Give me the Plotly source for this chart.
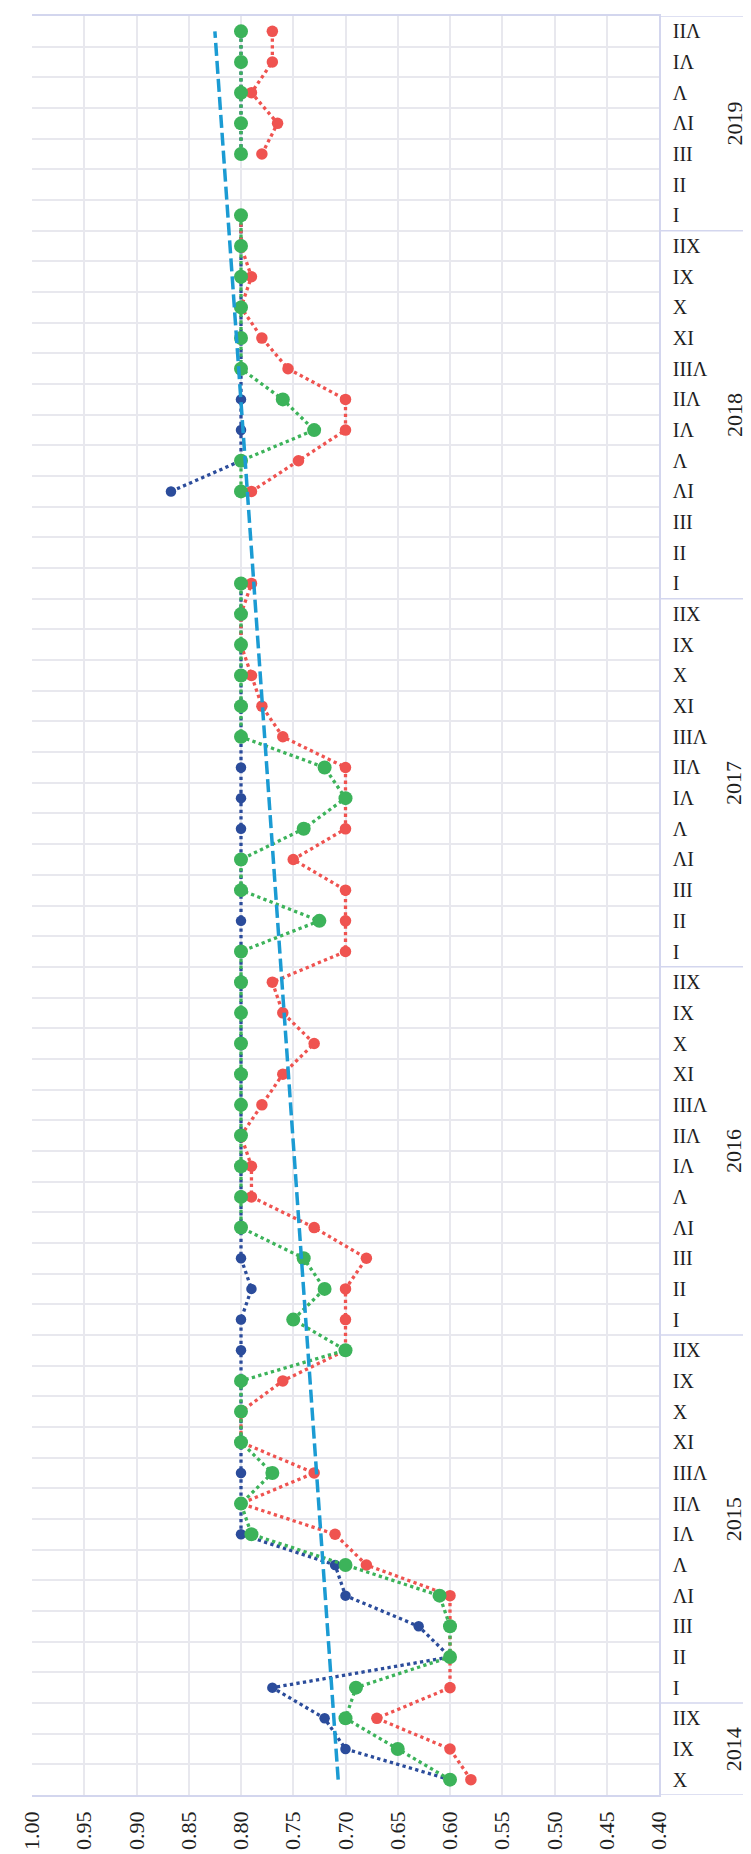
import plotly.graph_objects as go

# ---------------- data ----------------
years = ["2014", "2015", "2016", "2017", "2018", "2019"]
month_labels = ["I", "II", "III", "ΛI", "Λ", "IΛ", "IIΛ", "IIIΛ", "XI", "X", "IX", "IIX"]
year_months = {
    "2014": [10, 11, 12],
    "2015": list(range(1, 13)),
    "2016": list(range(1, 13)),
    "2017": list(range(1, 13)),
    "2018": list(range(1, 13)),
    "2019": list(range(1, 8)),
}

blue_vals = [
    0.60, 0.70, 0.72,                                                   # 2014
    0.77, 0.60, 0.63, 0.70, 0.71, 0.80, 0.80, 0.80, 0.80, 0.80, 0.80, 0.80,  # 2015
    0.80, 0.79, 0.80, 0.80, 0.80, 0.80, 0.80, 0.80, 0.80, 0.80, 0.80, 0.80,  # 2016
    0.80, 0.80, 0.80, 0.80, 0.80, 0.80, 0.80, 0.80, 0.80, 0.80, 0.80, 0.80,  # 2017
    0.80, None, None, 0.867, 0.80, 0.80, 0.80, 0.80, 0.80, 0.80, 0.80, 0.80,  # 2018
    0.80, None, 0.80, 0.80, 0.80, 0.80, 0.80,                           # 2019
]
red_vals = [
    0.58, 0.60, 0.67,
    0.60, 0.60, 0.60, 0.60, 0.68, 0.71, 0.80, 0.73, 0.80, 0.80, 0.76, 0.70,
    0.70, 0.70, 0.68, 0.73, 0.79, 0.79, 0.80, 0.78, 0.76, 0.73, 0.76, 0.77,
    0.70, 0.70, 0.70, 0.75, 0.70, 0.70, 0.70, 0.76, 0.78, 0.79, 0.80, 0.80,
    0.79, None, None, 0.79, 0.745, 0.70, 0.70, 0.755, 0.78, 0.80, 0.79, 0.80,
    0.80, None, 0.78, 0.765, 0.79, 0.77, 0.77,
]
green_vals = [
    0.60, 0.65, 0.70,
    0.69, 0.60, 0.60, 0.61, 0.70, 0.79, 0.80, 0.77, 0.80, 0.80, 0.80, 0.70,
    0.75, 0.72, 0.74, 0.80, 0.80, 0.80, 0.80, 0.80, 0.80, 0.80, 0.80, 0.80,
    0.80, 0.725, 0.80, 0.80, 0.74, 0.70, 0.72, 0.80, 0.80, 0.80, 0.80, 0.80,
    0.80, None, None, 0.80, 0.80, 0.73, 0.76, 0.80, 0.80, 0.80, 0.80, 0.80,
    0.80, None, 0.80, 0.80, 0.80, 0.80, 0.80,
]
trend_vals = [0.707, 0.825]  # trend line value at first and last category

# ---------------- build categories ----------------
cat_year = []
cat_label = []
for y in years:
    for m in year_months[y]:
        cat_year.append(y)
        cat_label.append(month_labels[m - 1])
pos = list(range(len(cat_label)))
n = len(pos)

FONT = "Liberation Serif"
TXT = "#1e1e1e"
GRID = "#e8e8ee"
DIV = "#d3d6ee"

fig = go.Figure()

fig.add_trace(go.Scatter(
    x=blue_vals, y=pos, mode="lines+markers",
    line=dict(color="#2b4c9b", width=3.3, dash="dot"),
    marker=dict(color="#2b4c9b", size=10.5), connectgaps=False, name="blue"))
fig.add_trace(go.Scatter(
    x=red_vals, y=pos, mode="lines+markers",
    line=dict(color="#ef5350", width=3.3, dash="dot"),
    marker=dict(color="#ef5350", size=11.5), connectgaps=False, name="red"))
fig.add_trace(go.Scatter(
    x=green_vals, y=pos, mode="lines+markers",
    line=dict(color="#3cb35a", width=3.3, dash="dot"),
    marker=dict(color="#3cb35a", size=14), connectgaps=False, name="green"))
fig.add_trace(go.Scatter(
    x=trend_vals, y=[pos[0], pos[-1]], mode="lines",
    line=dict(color="#1b9bd3", width=3.5, dash="13px,5px"), name="trend"))

# year dividers and labels
shapes = []
annotations = []
start = 0
bounds = [-0.5]
for y in years:
    cnt = len(year_months[y])
    center = start + (cnt - 1) / 2
    annotations.append(dict(
        x=1.12, xref="paper", y=center, yref="y", text=y, showarrow=False,
        textangle=-90, font=dict(family=FONT, size=22, color=TXT),
        xanchor="center", yanchor="middle"))
    start += cnt
    bounds.append(start - 0.5)
for b in bounds:
    shapes.append(dict(type="line", xref="paper", yref="y", x0=1.0, x1=1.17,
                       y0=b, y1=b, line=dict(color=DIV, width=1.5), layer="below"))

fig.update_layout(
    width=751, height=1854,
    margin=dict(l=23.5, r=100, t=6, b=67),
    paper_bgcolor="white", plot_bgcolor="white",
    showlegend=False,
    shapes=shapes, annotations=annotations,
    font=dict(family=FONT, color=TXT),
)
fig.update_xaxes(
    range=[1.0, 0.4], dtick=0.05, tick0=0.4, tickformat=".2f",
    tickangle=-90, tickfont=dict(family=FONT, size=22, color=TXT),
    showgrid=True, gridcolor=GRID, gridwidth=1.5, zeroline=False,
    showline=True, linecolor=DIV, linewidth=1.5, mirror=True,
    ticks="outside", ticklen=6, tickcolor="rgba(0,0,0,0)",
)
fig.update_yaxes(
    range=[-0.5, n - 0.5], side="right",
    tickmode="array", tickvals=pos, ticktext=cat_label,
    tickfont=dict(family=FONT, size=20, color=TXT),
    showgrid=False, zeroline=False,
    showline=True, linecolor=DIV, linewidth=1.5,
    ticks="outside", ticklen=8, tickcolor="rgba(0,0,0,0)",
    minor=dict(tick0=-0.5, dtick=1, showgrid=True, gridcolor=GRID, gridwidth=1.5, ticks=""),
)

fig.write_html("out.html")
